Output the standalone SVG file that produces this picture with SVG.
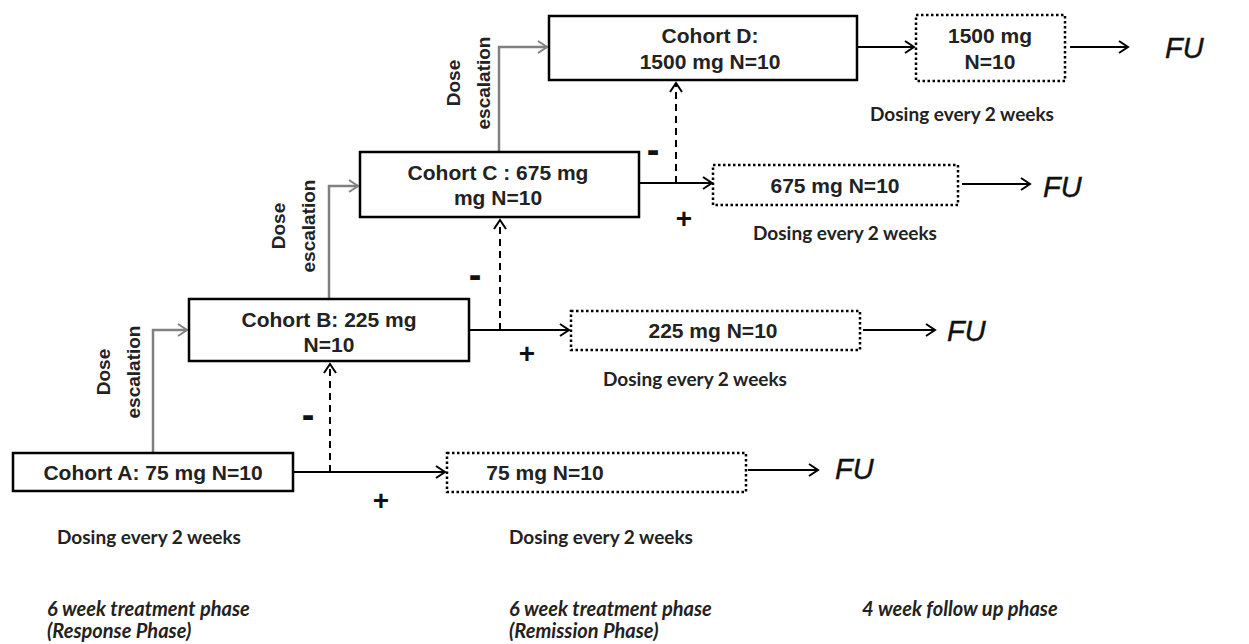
<svg xmlns="http://www.w3.org/2000/svg" width="1249" height="644" viewBox="0 0 1249 644">
<defs>
<marker id="ah" markerWidth="14" markerHeight="14" refX="11" refY="7" orient="auto" markerUnits="userSpaceOnUse">
<path d="M2,1 L11,7 L2,13" fill="none" stroke="#000" stroke-width="2"/>
</marker>
<marker id="ahg" markerWidth="14" markerHeight="14" refX="11" refY="7" orient="auto" markerUnits="userSpaceOnUse">
<path d="M2,1 L11,7 L2,13" fill="none" stroke="#808080" stroke-width="2"/>
</marker>
</defs>
<style>
.box{fill:#fff;stroke:#000;stroke-width:2.5}
.dbox{fill:#fff;stroke:#000;stroke-width:2.5;stroke-dasharray:2.5,2.5}
.bt{font-family:"Liberation Sans",Arial,sans-serif;font-weight:bold;font-size:21px;fill:#222;text-anchor:middle}
.fu{font-family:"Liberation Sans",Arial,sans-serif;font-style:italic;font-size:29px;fill:#111;stroke:#111;stroke-width:0.4}
.dose{font-family:Lato,"Open Sans",sans-serif;font-weight:bold;font-size:19px;fill:#222}
.ph{font-family:Lato,"Open Sans",sans-serif;font-weight:bold;font-style:italic;font-size:20px;fill:#222}
.esc{font-family:"Liberation Sans",Arial,sans-serif;font-weight:bold;font-size:19px;fill:#222;text-anchor:middle}
.sig{font-family:"Liberation Sans",Arial,sans-serif;font-weight:bold;font-size:28px;fill:#111;text-anchor:middle}
.min{font-family:"Liberation Sans",Arial,sans-serif;font-weight:bold;font-size:38px;fill:#111;text-anchor:middle}
.ln{fill:none;stroke:#000;stroke-width:2}
.dl{fill:none;stroke:#000;stroke-width:2;stroke-dasharray:7,5}
.gl{fill:none;stroke:#808080;stroke-width:2.5}
</style>
<g id="connectors">
<polyline class="gl" points="153,452 153,330 187,330" marker-end="url(#ahg)"/>
<polyline class="gl" points="329,299 329,186 358,186" marker-end="url(#ahg)"/>
<polyline class="gl" points="499,152 499,47 547,47" marker-end="url(#ahg)"/>
<line class="ln" x1="293" y1="472" x2="445" y2="472" marker-end="url(#ah)"/>
<line class="dl" x1="330" y1="472" x2="330" y2="364" marker-end="url(#ah)"/>
<line class="ln" x1="469" y1="330" x2="569" y2="330" marker-end="url(#ah)"/>
<line class="dl" x1="500" y1="330" x2="500" y2="220" marker-end="url(#ah)"/>
<line class="ln" x1="639" y1="183" x2="712" y2="183" marker-end="url(#ah)"/>
<line class="dl" x1="676" y1="183" x2="676" y2="83" marker-end="url(#ah)"/>
<line class="ln" x1="857" y1="47" x2="914" y2="47" marker-end="url(#ah)"/>
<line class="ln" x1="748" y1="470" x2="818" y2="470" marker-end="url(#ah)"/>
<line class="ln" x1="863" y1="330" x2="935" y2="330" marker-end="url(#ah)"/>
<line class="ln" x1="962" y1="184" x2="1030" y2="184" marker-end="url(#ah)"/>
<line class="ln" x1="1070" y1="47" x2="1128" y2="47" marker-end="url(#ah)"/>
</g>
<g id="cohortA">
<rect class="box" x="13" y="453" width="280" height="38"/>
<text class="bt" x="153" y="480">Cohort A: 75 mg N=10</text>
</g>
<g id="cohortB">
<rect class="box" x="189" y="299" width="280" height="62"/>
<text class="bt" x="329" y="327">Cohort B: 225 mg</text>
<text class="bt" x="329" y="352">N=10</text>
</g>
<g id="cohortC">
<rect class="box" x="360" y="152" width="279" height="65"/>
<text class="bt" x="498" y="180">Cohort C : 675 mg</text>
<text class="bt" x="498" y="205">mg N=10</text>
</g>
<g id="cohortD">
<rect class="box" x="549" y="16" width="308" height="64"/>
<text class="bt" x="710" y="43">Cohort D:</text>
<text class="bt" x="710" y="69">1500 mg N=10</text>
</g>
<g id="rA">
<rect class="dbox" x="447" y="453" width="299" height="39"/>
<text class="bt" x="545" y="480">75 mg N=10</text>
</g>
<g id="rB">
<rect class="dbox" x="571" y="311" width="289" height="39"/>
<text class="bt" x="713" y="338">225 mg N=10</text>
</g>
<g id="rC">
<rect class="dbox" x="713" y="165" width="245" height="40"/>
<text class="bt" x="835" y="193">675 mg N=10</text>
</g>
<g id="rD">
<rect class="dbox" x="916" y="15" width="149" height="66"/>
<text class="bt" x="990" y="43">1500 mg</text>
<text class="bt" x="990" y="69">N=10</text>
</g>
<g id="fu">
<text class="fu" x="835" y="479">FU</text>
<text class="fu" x="947" y="341">FU</text>
<text class="fu" x="1043" y="197">FU</text>
<text class="fu" x="1165" y="58">FU</text>
</g>
<g id="signs">
<text class="sig" x="381" y="510">+</text>
<text class="sig" x="527" y="363">+</text>
<text class="sig" x="684" y="228">+</text>
<text class="min" x="308" y="428">-</text>
<text class="min" x="475" y="288">-</text>
<text class="min" x="653" y="163">-</text>
</g>
<g id="esc">
<text class="esc" transform="translate(110,372) rotate(-90)">Dose</text>
<text class="esc" transform="translate(140,372) rotate(-90)">escalation</text>
<text class="esc" transform="translate(285,226) rotate(-90)">Dose</text>
<text class="esc" transform="translate(315,226) rotate(-90)">escalation</text>
<text class="esc" transform="translate(460,83) rotate(-90)">Dose</text>
<text class="esc" transform="translate(490,83) rotate(-90)">escalation</text>
</g>
<g id="labels">
<text class="dose" x="57" y="544">Dosing every 2 weeks</text>
<text class="dose" x="509" y="544">Dosing every 2 weeks</text>
<text class="dose" x="603" y="386">Dosing every 2 weeks</text>
<text class="dose" x="753" y="240">Dosing every 2 weeks</text>
<text class="dose" x="870" y="121">Dosing every 2 weeks</text>
<text class="ph" x="47" y="616">6 week treatment phase</text>
<text class="ph" x="47" y="638">(Response Phase)</text>
<text class="ph" x="509" y="616">6 week treatment phase</text>
<text class="ph" x="509" y="638">(Remission Phase)</text>
<text class="ph" x="862" y="616">4 week follow up phase</text>
</g>
</svg>
